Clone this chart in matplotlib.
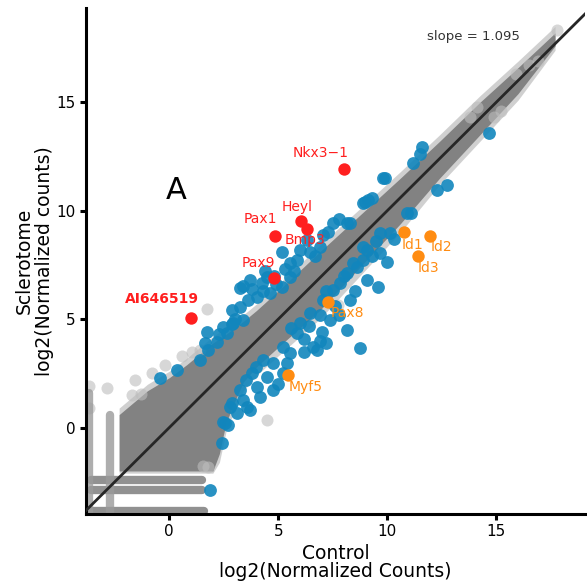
import matplotlib.pyplot as plt

# --- data ---
# dense grey cloud (edges of the band of non-significant genes)
band_x = [-2.3, -1.0, 0.0, 0.8, 1.4, 2.0, 2.3, 2.6, 3.0, 3.4, 4.0, 5.1, 6.9, 8.75, 10.6, 12.4, 14.25, 16.0, 17.7]
band_hi = [0.6, 1.7, 2.3, 2.9, 3.4, 3.9, 4.1, 4.3, 4.6, 4.9, 5.4, 6.4, 8.1, 9.8, 11.5, 13.2, 15.0, 16.6, 18.2]
band_lo = [-2.0, -2.0, -2.0, -2.0, -2.0, -2.0, -1.2, 0.2, 1.2, 2.1, 2.8, 3.8, 5.4, 7.4, 9.4, 11.5, 13.5, 15.4, 17.6]
# lighter fringe around the cloud
fringe_hi = [0.9, 2.0, 2.6, 3.2, 3.7, 4.2, 4.4, 4.6, 4.9, 5.2, 5.7, 6.7, 8.4, 10.1, 11.8, 13.5, 15.3, 16.9, 18.5]
fringe_lo = [-2.1, -2.1, -2.1, -2.1, -2.1, -2.1, -1.6, -0.2, 0.8, 1.7, 2.4, 3.4, 5.0, 7.0, 9.0, 11.2, 13.2, 15.1, 17.4]

# zero-count stripes: (level, start, end)
hstripes = [(-2.4, -3.6, 1.5), (-2.9, -3.6, 1.5), (-3.85, -3.6, 1.6)]
vstripes = [(-2.72, -3.9, 0.6), (-3.7, -3.9, 1.6)]

# scattered light grey points
grey_x = [1.72, 1.03, 1.40, -0.81, -1.57, -2.84, -1.72, -1.3, 4.47, 1.78, 1.55, 7.74,
          17.77, 16.9, 16.5, 15.9, 14.9, 15.2, 14.1, 13.8, -3.7, -3.7, 0.6, -0.2]
grey_y = [5.46, 3.50, 3.57, 2.50, 2.20, 1.82, 1.51, 1.55, 0.35, -1.80, -1.75, 5.65,
          18.33, 16.9, 16.7, 16.3, 14.3, 14.6, 14.8, 14.3, 1.9, 0.9, 3.3, 2.9]

# significant genes (blue), above and below the diagonal
blue_up_x = [-0.43, 0.34, 1.41, 1.79, 1.72, 2.17, 2.63, 2.48, 1.64, 2.86, 2.90, 3.24, 3.39,
             3.24, 3.39, 3.70, 3.60, 4.01, 4.24, 4.47, 4.62, 4.90, 5.16, 5.54, 5.54, 5.30,
             5.84, 6.00, 5.16, 6.45, 6.30, 6.91, 7.06, 7.52, 7.30, 8.14, 8.29, 7.80, 8.90,
             8.98, 9.13, 9.28, 9.82, 9.89, 11.19, 11.50, 11.58, 3.00, 2.30, 4.30, 5.70, 6.70,
             2.94, 3.80, 4.40, 4.80]
blue_up_y = [2.28, 2.66, 3.12, 3.58, 4.42, 3.96, 4.35, 4.65, 3.89, 5.42, 4.80, 5.58, 4.96,
             6.42, 6.53, 6.81, 5.90, 6.04, 6.65, 6.96, 6.19, 6.60, 6.50, 6.96, 7.58, 7.30,
             7.73, 8.19, 8.11, 8.11, 8.65, 8.34, 8.88, 9.42, 9.00, 9.42, 9.42, 9.60, 10.34,
             10.41, 10.49, 10.57, 11.49, 11.49, 12.21, 12.61, 12.95, 5.00, 4.30, 6.30, 7.20, 7.90,
             4.81, 6.40, 7.20, 7.00]
blue_dn_x = [1.87, 2.40, 2.55, 2.48, 2.78, 3.09, 2.86, 3.39, 3.24, 3.55, 3.70, 4.01, 4.16,
             4.47, 4.77, 4.77, 4.31, 3.80, 5.23, 5.54, 5.23, 5.00, 5.84, 6.00, 6.60, 6.76,
             6.45, 6.20, 7.06, 7.37, 7.52, 7.83, 8.14, 8.29, 8.14, 8.75, 8.60, 8.90, 9.06,
             9.06, 9.59, 9.67, 9.67, 9.97, 10.12, 10.30, 10.89, 11.10, 12.27, 12.72, 14.68,
             6.90, 7.60, 5.60, 4.00, 3.50, 8.44, 8.90, 8.00, 9.50, 9.30, 7.00, 6.40, 2.70,
             6.90, 7.80, 8.50, 7.20, 5.40, 6.20, 7.20]
blue_dn_y = [-2.87, -0.72, 0.20, 0.28, 0.97, 0.66, 1.12, 1.28, 1.74, 0.97, 0.82, 1.89, 1.43,
             2.35, 1.74, 2.97, 3.12, 2.50, 3.73, 3.43, 2.50, 2.00, 4.35, 4.81, 3.73, 3.58,
             5.27, 4.10, 5.88, 4.96, 6.35, 6.65, 7.12, 5.88, 4.50, 3.66, 7.42, 7.73, 8.19,
             6.81, 6.50, 8.04, 8.96, 7.65, 8.96, 8.70, 9.88, 9.90, 10.95, 11.18, 13.60,
             5.20, 5.60, 4.60, 2.80, 2.20, 7.58, 8.34, 7.00, 8.60, 7.90, 4.40, 4.70, 0.10,
             4.00, 5.20, 6.30, 6.30, 3.00, 3.50, 3.90]

# labelled genes
red_genes = ['Nkx3\u22121', 'Heyl', 'Bmp3', 'Pax1', 'Pax9', 'AI646519']
red_x = [8.03, 6.03, 6.33, 4.86, 4.80, 0.98]
red_y = [11.92, 9.53, 9.14, 8.83, 6.88, 5.07]
red_tx = [6.96, 5.86, 6.22, 4.16, 4.11, -0.33]
red_ty = [12.66, 10.16, 8.64, 9.62, 7.59, 5.92]

orange_genes = ['Id1', 'Id2', 'Id3', 'Pax8', 'Myf5']
orange_x = [10.77, 11.96, 11.42, 7.27, 5.46]
orange_y = [9.00, 8.83, 7.91, 5.79, 2.44]
orange_tx = [11.18, 12.47, 11.91, 8.15, 6.27]
orange_ty = [8.42, 8.33, 7.36, 5.28, 1.87]

line_slope = 1.0
line_x = [-4.0, 19.5]

# --- plot ---
fig = plt.figure(figsize=(5.87, 5.84), dpi=100)
ax = fig.add_axes([0.1465, 0.12, 0.85, 0.866])

ax.fill_between(band_x, fringe_lo, fringe_hi, color='#bdbdbd', lw=0, alpha=0.7)
ax.fill_between(band_x, band_lo, band_hi, color='#828282', lw=0)

for lvl, a, b in hstripes:
    ax.plot([a, b], [lvl, lvl], color='#858585', lw=6, solid_capstyle='round', alpha=0.9)
for lvl, a, b in vstripes:
    ax.plot([lvl, lvl], [a, b], color='#9a9a9a', lw=6, solid_capstyle='round', alpha=0.8)

ax.scatter(grey_x, grey_y, s=75, color='#bdbdbd', alpha=0.6, lw=0)
ax.scatter(blue_up_x, blue_up_y, s=85, color='#1186bd', alpha=0.9, lw=0, zorder=3)
ax.scatter(blue_dn_x, blue_dn_y, s=85, color='#1186bd', alpha=0.9, lw=0, zorder=3)

ax.plot(line_x, [line_slope * v for v in line_x], color='#262626', lw=2, zorder=4)

ax.scatter(red_x, red_y, s=80, color='#ff1f1f', lw=0, zorder=5)
ax.scatter(orange_x, orange_y, s=80, color='#ff8c12', lw=0, zorder=5)
for g, tx, ty in zip(red_genes, red_tx, red_ty):
    ax.text(tx, ty, g, color='#ff1f1f', fontsize=10, ha='center', va='center', zorder=6,
            fontweight='bold' if g == 'AI646519' else 'normal')
for g, tx, ty in zip(orange_genes, orange_tx, orange_ty):
    ax.text(tx, ty, g, color='#ff8c12', fontsize=10, ha='center', va='center', zorder=6)

ax.text(0.31, 10.94, 'A', fontsize=22, ha='center', va='center')
ax.text(13.94, 18.05, 'slope = 1.095', fontsize=9.5, color='#333333', ha='center', va='center')

ax.set_xlim(-3.82, 19.07)
ax.set_ylim(-3.98, 19.34)
ax.set_xticks([0, 5, 10, 15])
ax.set_yticks([0, 5, 10, 15])
ax.spines['top'].set_visible(False)
ax.spines['right'].set_visible(False)
ax.spines['left'].set_linewidth(2.2)
ax.spines['bottom'].set_linewidth(2.2)
ax.tick_params(width=2.2, length=4, labelsize=11)
ax.set_xlabel('Control\nlog2(Normalized Counts)', fontsize=13.5, labelpad=3, linespacing=0.95)
ax.set_ylabel('Sclerotome\nlog2(Normalized counts)', fontsize=13.5, labelpad=2, linespacing=1.05)

fig.savefig('out.png', dpi=100)
